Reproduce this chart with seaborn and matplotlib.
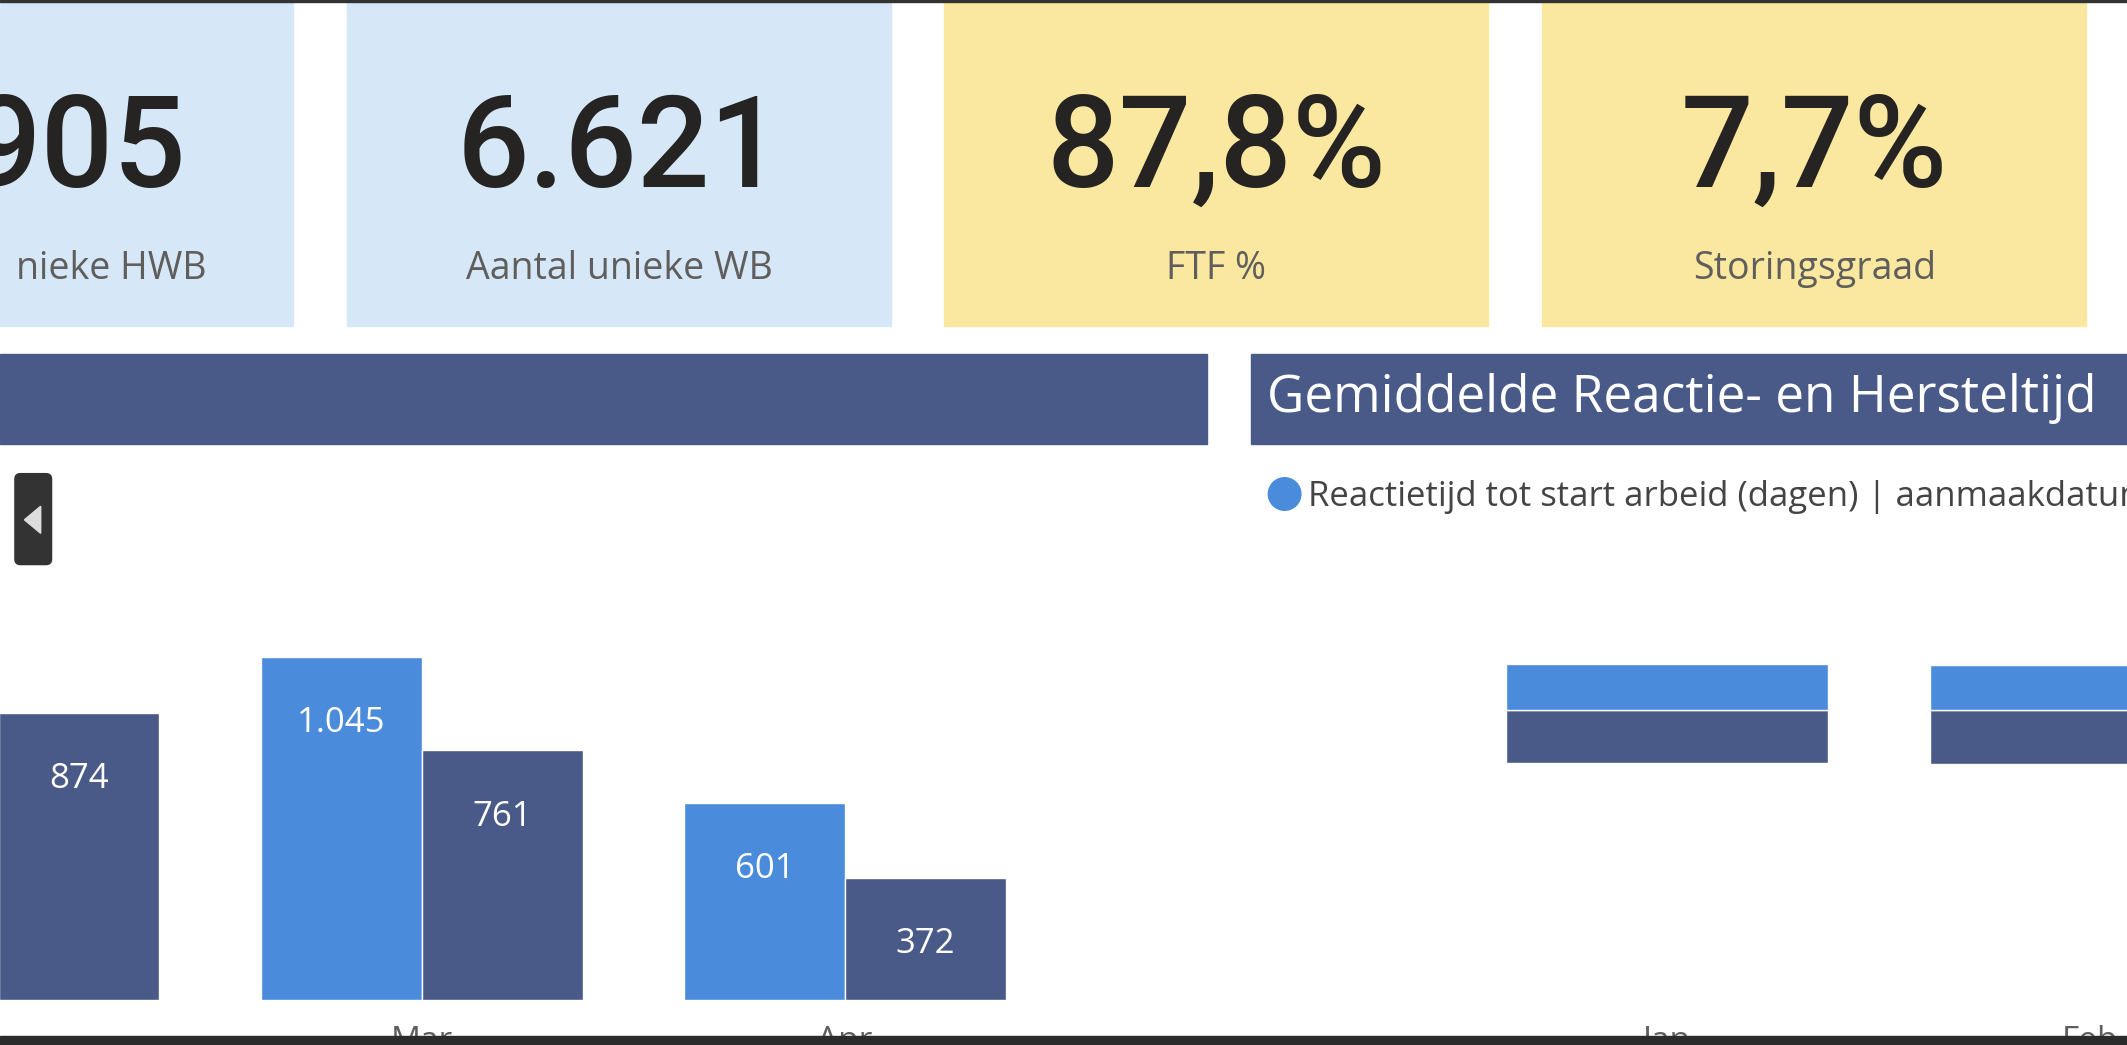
import matplotlib
matplotlib.use("Agg")
import matplotlib.pyplot as plt
import seaborn as sns
import pandas as pd
from matplotlib.patches import Rectangle, FancyBboxPatch, Polygon

sns.set_theme(style="white")
plt.rcParams['font.family'] = ['Open Sans', 'DejaVu Sans']

kpi_values = ["905", "6.621", "87,8%", "7,7%"]
kpi_labels = ["nieke HWB", "Aantal unieke WB", "FTF %", "Storingsgraad"]
months_left = ["Feb", "Mar", "Apr"]
series_a = [1000, 1045, 601]   # light
series_b = [874, 761, 372]     # dark
months_right = ["Jan", "Feb"]
right_base = [175, 174]
right_dark = [39, 40]
right_light = [34, 33]

LIGHT = "#4A8CDB"; DARK = "#4A5A88"
W, H = 1568, 770
fig = plt.figure(figsize=(21.27, 10.45), dpi=100)

def rect(x0, y0, x1, y1):
    return [x0 / W, 1 - y1 / H, (x1 - x0) / W, (y1 - y0) / H]

bg = fig.add_axes([0, 0, 1, 1]); bg.set_xlim(0, W); bg.set_ylim(H, 0); bg.axis("off")
cards = [(-200, 216, "#D6E8F7"), (256, 657, "#D6E8F7"), (696, 1097, "#FAE8A0"), (1137, 1538, "#FAE8A0")]
for (x0, x1, c), v, l in zip(cards, kpi_values, kpi_labels):
    bg.add_patch(Rectangle((x0, 0), x1 - x0, 240, color=c))
    if x0 < 0:
        bg.text(137, 112, v, ha="right", va="center", fontsize=92, color="#252423",
                family=["Roboto", "DejaVu Sans"], fontweight="medium")
        bg.text(152, 198, l, ha="right", va="center", fontsize=27, color="#605E5C")
    else:
        cx = (x0 + x1) / 2
        bg.text(cx, 112, v, ha="center", va="center", fontsize=92, color="#252423",
                family=["Roboto", "DejaVu Sans"], fontweight="medium")
        bg.text(cx, 198, l, ha="center", va="center", fontsize=27, color="#605E5C")
bg.add_patch(Rectangle((0, 261), 890, 66, color=DARK))
bg.add_patch(Rectangle((922, 261), 700, 66, color=DARK))
bg.text(934, 294, "Gemiddelde Reactie- en Hersteltijd", va="center", fontsize=37, color="white")
bg.add_patch(plt.Circle((947, 364), 12, color=LIGHT))
bg.text(964, 366, "Reactietijd tot start arbeid (dagen) | aanmaakdatum", va="center", fontsize=25, color="#444")
bg.add_patch(FancyBboxPatch((11, 349), 27, 67, boxstyle="round,pad=0,rounding_size=4", color="#333333"))
bg.add_patch(Polygon([[30, 373], [30, 393], [18, 383]], color="#DDDDDD"))

# left chart
df = pd.DataFrame({"month": months_left * 2, "val": series_a + series_b,
                   "s": ["a"] * 3 + ["b"] * 3})
ax = fig.add_axes(rect(0, 340, 890, 737))
sns.barplot(data=df, x="month", y="val", hue="s", palette=[LIGHT, DARK], width=0.76,
            ax=ax, legend=False, saturation=1)
for cont in ax.containers:
    ax.bar_label(cont, labels=[f"{v:,.0f}".replace(",", ".") for v in cont.datavalues],
                 label_type="edge", padding=-60, color="white", fontsize=25)
ax.set_xlim(0.0032, 2.856); ax.set_ylim(0, 1640)
ax.set_xlabel(""); ax.set_ylabel(""); ax.set_yticks([])
ax.tick_params(axis="x", labelsize=24, colors="#605E5C", pad=12)
for s in ax.spines.values(): s.set_visible(False)
ax.patch.set_alpha(0)

# right chart
ax2 = fig.add_axes(rect(940, 340, 1568, 737))
x = [0, 1]
ax2.bar(x, right_dark, bottom=right_base, width=0.76, color=DARK)
ax2.bar(x, right_light, bottom=[b + d for b, d in zip(right_base, right_dark)], width=0.76, color=LIGHT)
ax2.set_xticks(x, months_right)
ax2.set_xlim((940 - 1229) / 312, (1568 - 1229) / 312); ax2.set_ylim(0, 397)
ax2.set_yticks([])
ax2.tick_params(axis="x", labelsize=24, colors="#605E5C", pad=12)
for s in ax2.spines.values(): s.set_visible(False)
ax2.patch.set_alpha(0)

top = fig.add_axes([0, 0, 1, 1]); top.set_xlim(0, W); top.set_ylim(H, 0); top.axis("off")
top.add_patch(Rectangle((0, 763), W, 10, color="#2B2B2B"))
top.add_patch(Rectangle((0, 0), W, 1.5, color="#333333"))
fig.savefig("out.png", dpi=100, facecolor="white")
